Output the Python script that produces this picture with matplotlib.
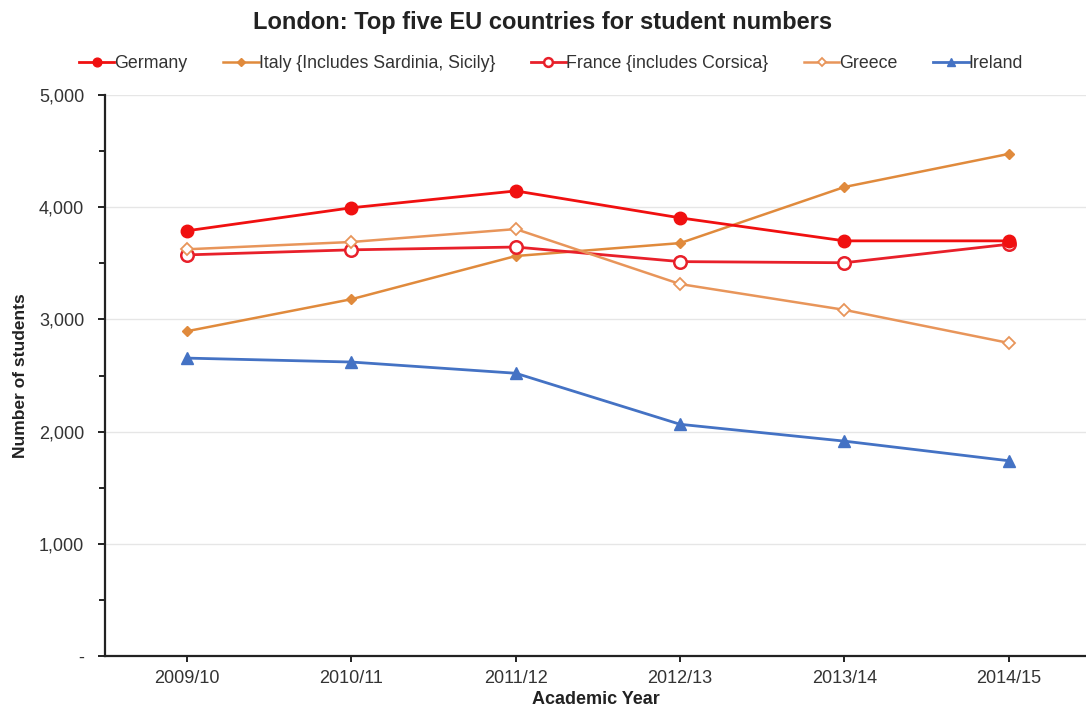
import matplotlib
matplotlib.use("Agg")
import matplotlib.pyplot as plt
from matplotlib.ticker import FuncFormatter, MultipleLocator

years = ["2009/10", "2010/11", "2011/12", "2012/13", "2013/14", "2014/15"]
germany = [3790, 3995, 4145, 3905, 3700, 3700]
italy = [2895, 3180, 3565, 3680, 4180, 4475]
france = [3575, 3620, 3645, 3515, 3505, 3670]
greece = [3625, 3690, 3805, 3315, 3085, 2790]
ireland = [2655, 2620, 2520, 2065, 1915, 1740]

plt.rcParams['font.family'] = ['Liberation Sans', 'DejaVu Sans']

fig = plt.figure(figsize=(10.86, 7.11), dpi=100)
ax = fig.add_axes([105/1086, 1 - 656/711, (1086 - 105)/1086, (656 - 95)/711])

x = list(range(len(years)))
ax.plot(x, germany, color='#F01010', lw=2, marker='o', ms=9, mfc='#F01010', mec='#F01010', label='Germany', zorder=5)
ax.plot(x, italy, color='#E08A3C', lw=1.8, marker='D', ms=5.5, mfc='#E08A3C', mec='#E08A3C', label='Italy {Includes Sardinia, Sicily}', zorder=4)
ax.plot(x, france, color='#E8202A', lw=2, marker='o', ms=9, mfc='white', mec='#E8202A', mew=1.8, label='France {includes Corsica}', zorder=4)
ax.plot(x, greece, color='#E8955A', lw=1.8, marker='D', ms=6, mfc='white', mec='#E8955A', mew=1.3, label='Greece', zorder=4)
ax.plot(x, ireland, color='#4472C4', lw=2, marker='^', ms=8, mfc='#4472C4', mec='#4472C4', label='Ireland', zorder=4)

ax.set_xlim(-0.5, 5.47)
ax.set_ylim(0, 5000)
ax.set_xticks(x)
ax.set_xticklabels(years)
ax.yaxis.set_major_locator(MultipleLocator(1000))
ax.yaxis.set_minor_locator(MultipleLocator(500))
ax.yaxis.set_major_formatter(FuncFormatter(lambda v, p: '-' if v == 0 else f'{int(v):,}'))
ax.grid(axis='y', which='major', color='#E6E6E6', lw=1)
ax.set_axisbelow(True)
for s in ['top', 'right']:
    ax.spines[s].set_visible(False)
ax.spines['left'].set_color('#222222')
ax.spines['bottom'].set_color('#222222')
ax.spines['left'].set_linewidth(1.6)
ax.spines['bottom'].set_linewidth(1.6)
ax.tick_params(axis='both', which='major', labelsize=13, labelcolor='#333333', length=5, direction='out', color='#222222', width=1.4)
ax.tick_params(axis='y', which='minor', length=4, direction='out', color='#222222', width=1.4)
ax.tick_params(axis='x', length=4, pad=6)
ax.tick_params(axis='y', pad=10)

ax.set_xlabel('Academic Year', fontsize=13, fontweight='bold', color='#222222', labelpad=3)
ax.set_ylabel('Number of students', fontsize=12.5, fontweight='bold', color='#222222', labelpad=8)

fig.text(0.5, 1 - 22/711, 'London: Top five EU countries for student numbers', ha='center', va='center',
         fontsize=17, fontweight='bold', color='#222222')

fig.legend(loc='center', bbox_to_anchor=(551/1086, 1 - 64/711), ncol=5, frameon=False, fontsize=12.8,
           handlelength=2.0, handletextpad=0.0, columnspacing=2.0, labelcolor='#333333', markerscale=0.7)

fig.savefig('out.png', dpi=100)
